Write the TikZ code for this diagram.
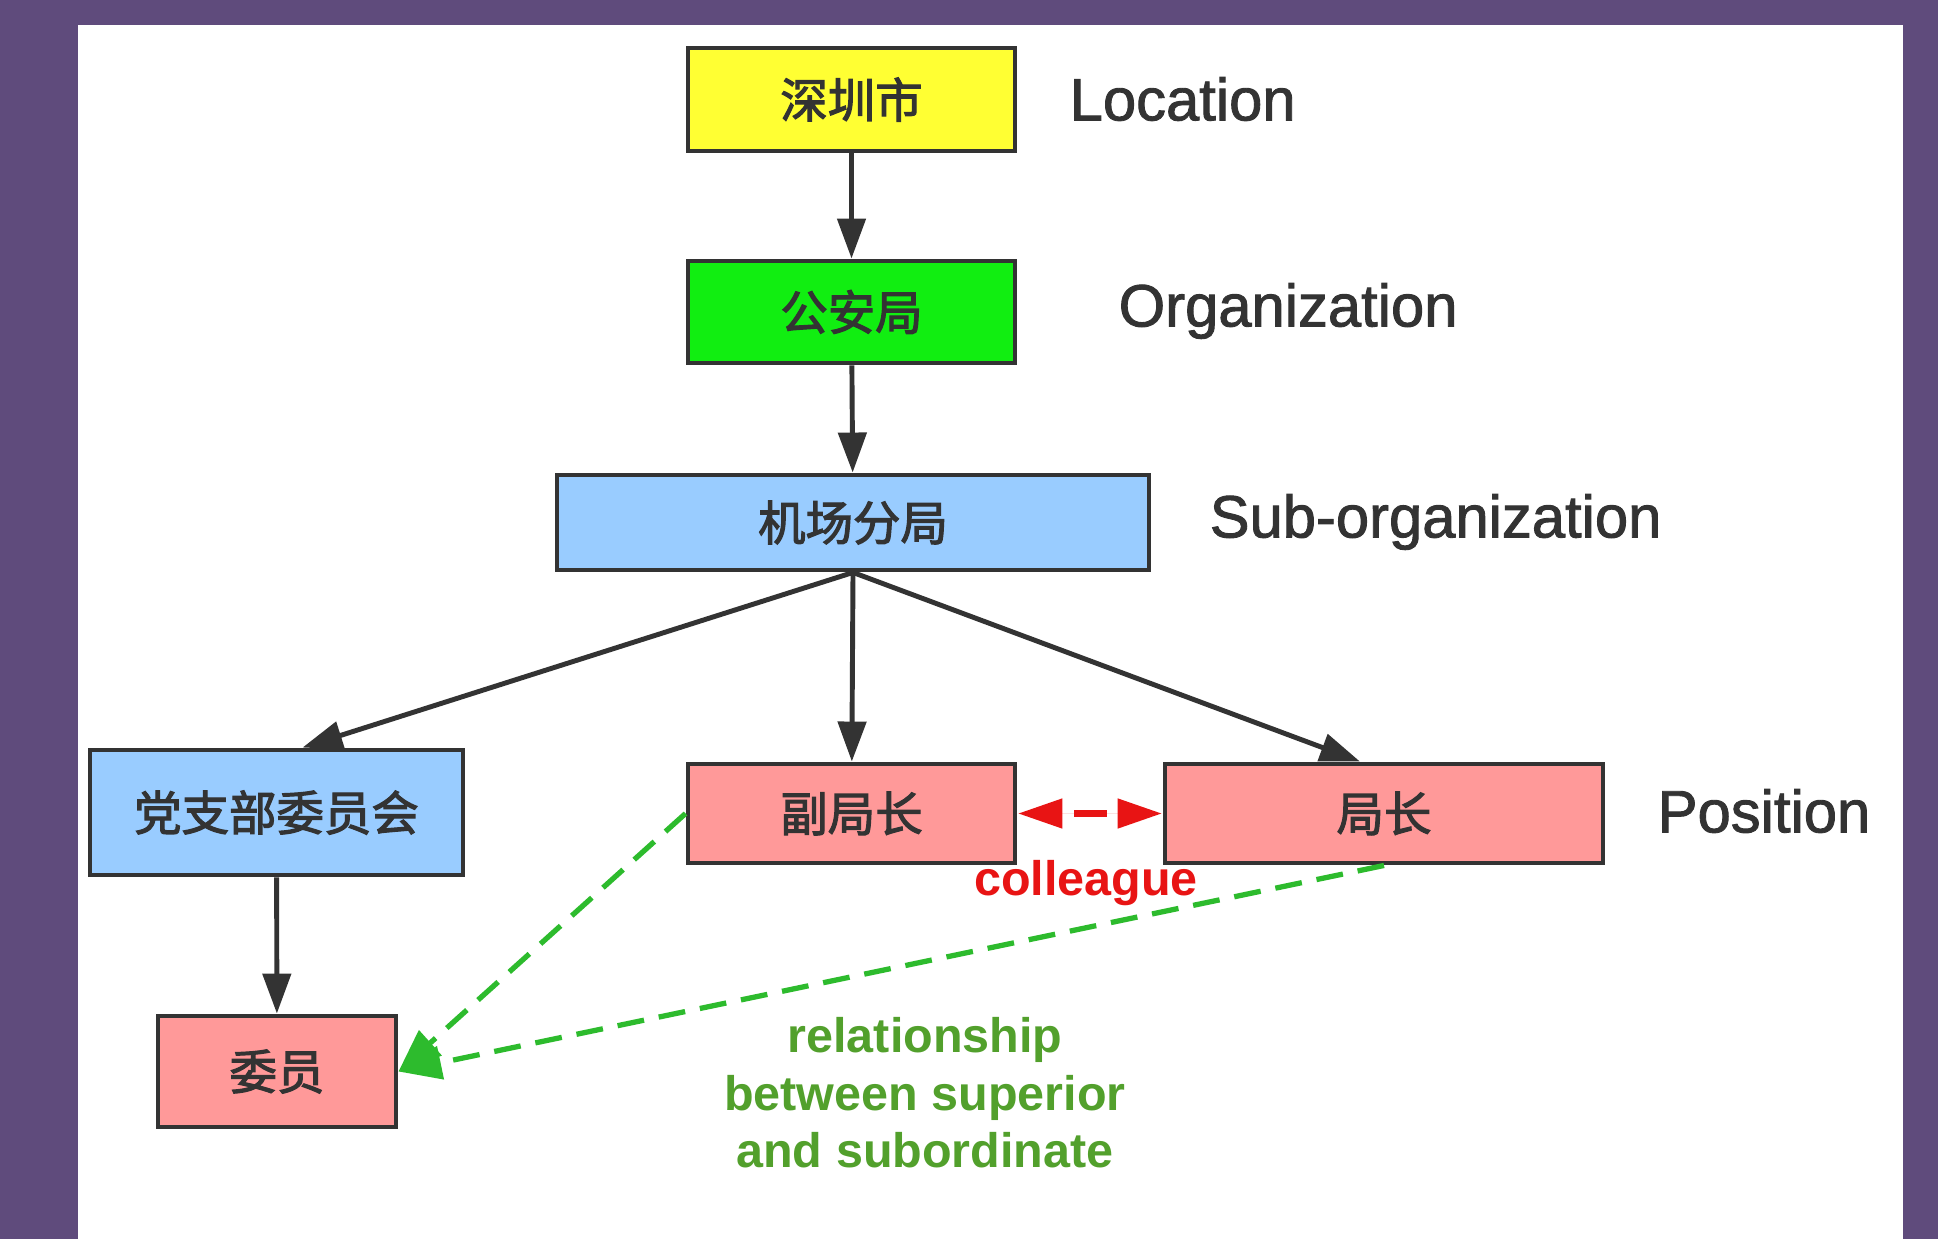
\documentclass[tikz,border=0pt]{standalone}
\usepackage{fontspec}
\setmainfont{Liberation Sans}
\newfontfamily\cjk[FakeBold=2.4]{Noto Sans CJK SC}
\newfontfamily\lvlfont[FakeBold=1.5]{Liberation Sans}
\usetikzlibrary{arrows.meta}
\definecolor{bgpurple}{HTML}{5F4B7C}
\definecolor{darkline}{HTML}{333333}
\definecolor{boxyellow}{HTML}{FFFF33}
\definecolor{boxgreen}{HTML}{11EE11}
\definecolor{boxblue}{HTML}{99CCFF}
\definecolor{boxpink}{HTML}{FF9999}
\definecolor{colred}{HTML}{E81414}
\definecolor{subgreen}{HTML}{2DBB2D}
\definecolor{txtgreen}{HTML}{52A02C}
\tikzset{
	box/.style={draw=darkline, line width=1.4pt, text=darkline, inner sep=0pt,
		font=\cjk\fontsize{13.5}{16}\selectfont},
	levellabel/.style={anchor=west, text=darkline, inner sep=0pt,
		font=\lvlfont\fontsize{17}{20}\selectfont},
	arr/.style={draw=darkline, line width=1.4pt, -{Triangle[length=4mm, width=2.8mm]}},
	colleague/.style={draw=colred, fill=colred, line width=2.2pt,
		{Triangle[length=4.5mm, width=2.8mm]}-{Triangle[length=4.5mm, width=2.8mm]},
		dash pattern=on 0pt off 1.35mm on 3.3mm off 10mm},
	subord/.style={draw=subgreen, line width=1.5pt, dash pattern=on 2.7mm off 1.5mm,
		-{Triangle[length=4.3mm, width=3.3mm]}},
}

\begin{document}
\begin{tikzpicture}
\fill[bgpurple] (0,0) rectangle (19.38,-12.39);
	\fill[white] (0.78,-0.25) rectangle (19.03,-12.39);
	\useasboundingbox (0,0) rectangle (19.38,-12.39);
	
	\node[box, fill=boxyellow, minimum width=3.27cm, minimum height=1.03cm] (SZ) at (8.515,-0.995) {深圳市};
	\node[box, fill=boxgreen, minimum width=3.27cm, minimum height=1.02cm] (GAJ) at (8.515,-3.12) {公安局};
	\node[box, fill=boxblue, minimum width=5.92cm, minimum height=0.95cm] (JC) at (8.53,-5.225) {机场分局};
	
	\node[box, fill=boxblue, minimum width=3.73cm, minimum height=1.25cm] (DZB) at (2.765,-8.125) {党支部委员会};
	\node[box, fill=boxpink, minimum width=3.27cm, minimum height=0.99cm] (FJZ) at (8.515,-8.135) {副局长};
	\node[box, fill=boxpink, minimum width=4.38cm, minimum height=0.99cm] (JZ) at (13.84,-8.135) {局长};
	\node[box, fill=boxpink, minimum width=2.38cm, minimum height=1.11cm] (WY) at (2.77,-10.715) {委员};
	
	\node[levellabel] (LOC) at (10.69,-0.99) {Location};
	\node[levellabel] (ORG) at (11.18,-3.11) {Organization};
	\node[levellabel] (SUB) at (12.09,-5.22) {Sub-organization};
	\node[levellabel] (POS) at (16.57,-8.11) {Position};
	
	\node[text=colred, font=\bfseries\fontsize{13.8}{16}\selectfont, inner sep=0pt] (COL) at (10.86,-8.83) {colleague};
	\node[text=txtgreen, font=\bfseries\fontsize{13.8}{16.4}\selectfont, align=center, inner sep=0pt] (REL) at (9.25,-10.93) {relationship\\between superior\\and subordinate};
	
	\draw[arr] (SZ) -- (GAJ);
	\draw[arr] (GAJ) -- (JC);
	\draw[arr] (JC.south) -- ([xshift=0.26cm]DZB.north);
	\draw[arr] (JC.south) -- (FJZ);
	\draw[arr] (JC.south) -- ([xshift=-0.24cm]JZ.north);
	\draw[arr] (DZB) -- (WY);
	
	\draw[colleague] (FJZ) -- (JZ);
	\draw[subord] (FJZ.west) -- (WY.east);
	\draw[subord] (JZ.south) -- (WY.east);

\end{tikzpicture}
\end{document}
